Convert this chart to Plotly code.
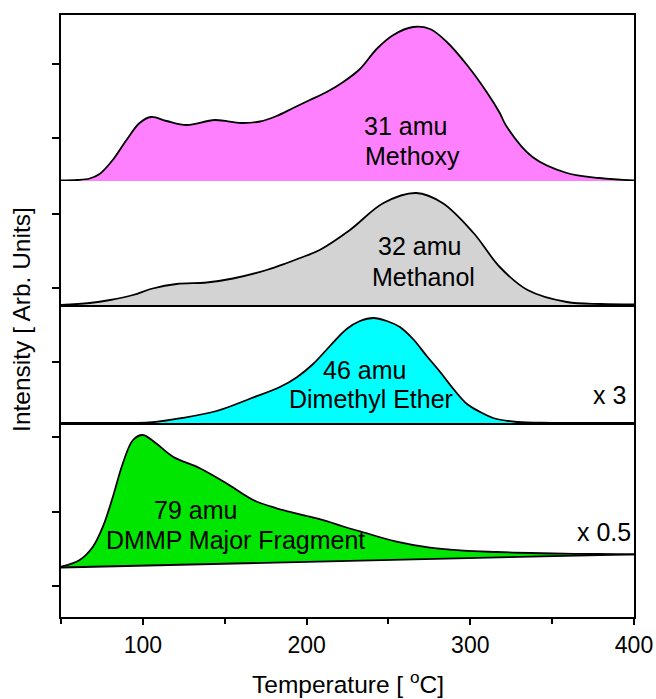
import plotly.graph_objects as go
from plotly.subplots import make_subplots

# ---- data (Temperature in deg C, intensity in arbitrary units) ----
methoxy_T = [50, 60, 67.5, 73.6, 81.6, 90, 98, 105, 114.5, 126.8, 144, 160, 171.6, 181.7, 191.8,
             202, 212.3, 222.4, 232.6, 242.8, 253, 265, 275.4, 285.7, 298, 310, 318, 322, 338,
             359, 379, 400]
methoxy_I = [0.5, 1, 2.5, 7, 21, 41, 58, 64, 60, 56, 61, 58, 59.5, 65, 73,
             81, 89, 99, 112, 132, 146, 154, 152, 139, 116, 89, 68, 55, 24,
             8, 3, 0.5]

methanol_T = [50, 67.5, 80, 94, 106, 120.6, 139, 155, 175.6, 188, 196, 208,
              226.5, 247, 267, 283, 302, 318, 335, 359, 380, 400]
methanol_I = [0, 2, 5, 10, 16.5, 21, 22.5, 26.5, 35, 42, 47, 55,
              75, 102, 112, 102, 72, 38, 15, 3, 1, 0.5]

dme_T = [50, 80, 104, 124, 145, 165, 183.7, 193.9, 204, 214.3, 224.5, 232.6, 240.8, 249,
         257, 265, 273.4, 281.6, 289.7, 298, 306, 314, 328.6, 350, 400]
dme_I = [0, 0.2, 0.5, 5, 12, 24, 36, 45.6, 59, 77, 94, 102, 105, 102,
         96, 84, 67, 51, 34, 19, 11, 5, 1, 0.2, 0]

dmmp_T = [50, 61.4, 69.5, 75.6, 81.7, 87.8, 94, 100, 108, 118.4, 134.8, 151, 167.4, 181.7,
          202, 214, 222.4, 234, 255, 275.4, 295.8, 316, 336.6, 356.8, 377, 400]
dmmp_I = [50.3, 57, 70.3, 90.3, 120.3, 153.7, 177, 182, 173.7, 160.3, 148.7, 133.7, 117, 108.7,
          100.3, 95, 90.5, 85, 75.3, 69.3, 66.3, 65, 64, 63.3, 63, 62.7]

dmmp_base_T = [50, 400]
dmmp_base_I = [49.5, 62.7]

panel_ranges = [[0, 166], [0, 124], [0, 118], [0, 194]]
panel_ticks = [[43, 117], [17, 91], [61], [31, 105, 180]]

x_major = [100, 200, 300, 400]
x_minor = [50, 150, 250, 350]

FONT = "Liberation Sans, Arial, sans-serif"
FS_TICK = 23
FS_TXT = 25
FS_TITLE = 24.5

fig = make_subplots(rows=4, cols=1, shared_xaxes=True, vertical_spacing=0,
                    row_heights=[166, 124, 118, 194])

line = dict(color="black", width=1.8, shape="spline", smoothing=1.0)

fig.add_trace(go.Scatter(x=methoxy_T, y=methoxy_I, mode="lines", line=line,
                         fill="tozeroy", fillcolor="#FF80FF", showlegend=False), row=1, col=1)
fig.add_trace(go.Scatter(x=methanol_T, y=methanol_I, mode="lines", line=line,
                         fill="tozeroy", fillcolor="#D3D3D3", showlegend=False), row=2, col=1)
fig.add_trace(go.Scatter(x=dme_T, y=dme_I, mode="lines", line=line,
                         fill="tozeroy", fillcolor="#00FFFF", showlegend=False), row=3, col=1)
fig.add_trace(go.Scatter(x=dmmp_base_T, y=dmmp_base_I, mode="lines",
                         line=dict(color="black", width=1.8), showlegend=False), row=4, col=1)
fig.add_trace(go.Scatter(x=dmmp_T, y=dmmp_I, mode="lines", line=line,
                         fill="tonexty", fillcolor="#00E600", showlegend=False), row=4, col=1)

fig.update_xaxes(range=[50, 400], showline=True, mirror=False, linecolor="black",
                 linewidth=1.8, showgrid=False, zeroline=False, ticks="", automargin=False)
fig.update_xaxes(row=1, col=1, mirror=True)
fig.update_xaxes(row=4, col=1, ticks="outside", tickvals=x_major, ticklen=6, tickwidth=1.6,
                 tickcolor="black", showticklabels=True,
                 tickfont=dict(family=FONT, size=FS_TICK, color="black"),
                 minor=dict(tickvals=x_minor, ticks="outside", ticklen=5, tickwidth=1.6,
                            tickcolor="black"))

for i in range(4):
    fig.update_yaxes(row=i + 1, col=1, range=panel_ranges[i], tickvals=panel_ticks[i],
                     showticklabels=False, ticks="outside", ticklen=7, tickwidth=1.6,
                     tickcolor="black", showline=True, mirror=True, linecolor="black",
                     linewidth=1.8, showgrid=False, zeroline=False, automargin=False)

labels = [
    ("31 amu", 233.9, 55.5, 1),
    ("Methoxy", 234.5, 25.5, 1),
    ("32 amu", 242.4, 58.5, 2),
    ("Methanol", 238.7, 27.5, 2),
    ("46 amu", 208.6, 52.5, 3),
    ("Dimethyl Ether", 187.8, 23.5, 3),
    ("x 3", 374, 27.5, 3),
    ("79 amu", 105.8, 107.5, 4),
    ("DMMP Major Fragment", 76, 77.5, 4),
    ("x 0.5", 364, 85, 4),
]
for text, xv, yv, r in labels:
    sfx = "" if r == 1 else str(r)
    fig.add_annotation(text=text, x=xv, y=yv, xref="x" + sfx, yref="y" + sfx,
                       xanchor="left", yanchor="middle", showarrow=False,
                       font=dict(family=FONT, size=FS_TXT, color="black"))

fig.add_annotation(text="Intensity [ Arb. Units]", x=-0.07, y=0.495, xref="paper", yref="paper",
                   xanchor="center", yanchor="middle", textangle=-90, showarrow=False,
                   font=dict(family=FONT, size=FS_TITLE, color="black"))
fig.add_annotation(text="Temperature [ <sup>o</sup>C]", x=0.5, y=-0.108, xref="paper", yref="paper",
                   xanchor="center", yanchor="middle", showarrow=False,
                   font=dict(family=FONT, size=FS_TITLE, color="black"))

fig.update_layout(width=656, height=699, margin=dict(l=61, r=22, t=15, b=82),
                  plot_bgcolor="white", paper_bgcolor="white", showlegend=False)

# remove the browser's default 8 px body margin so the figure fills the window exactly
fig.write_html("out.html",
               config={"displayModeBar": False},
               post_script="document.body.style.margin='0px';"
                           "document.body.style.overflow='hidden';")
